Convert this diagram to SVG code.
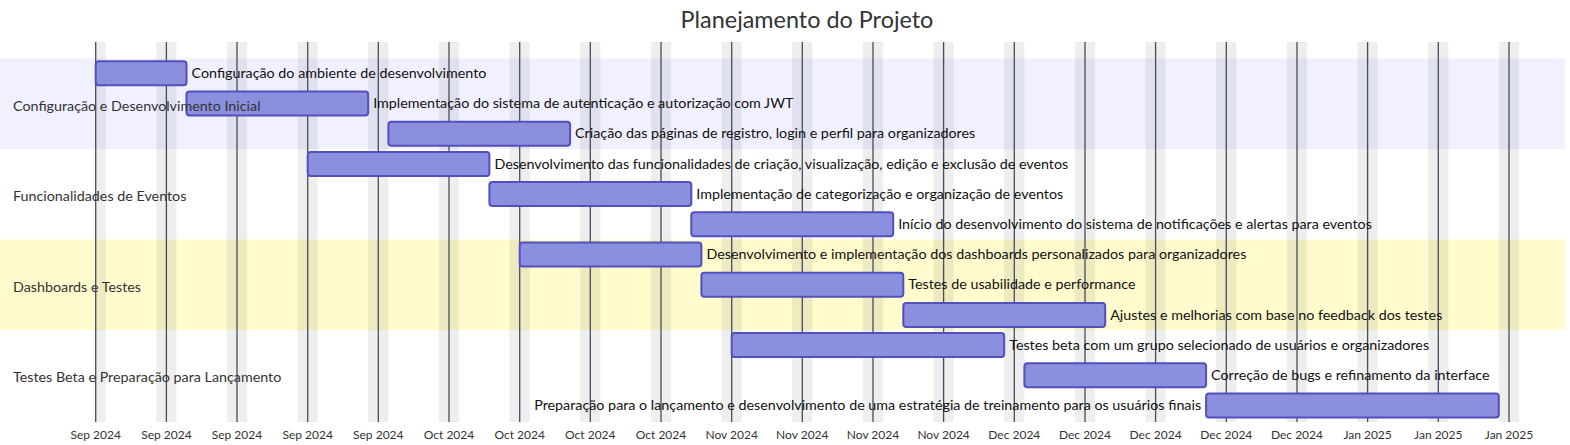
<svg xmlns="http://www.w3.org/2000/svg" width="1570" height="445" viewBox="0 0 1570 445">
<style>
text{font-family:Lato,"Liberation Sans",sans-serif;}
.title{font-size:23.4px;fill:#333;text-anchor:middle;}
.sec{font-size:14.3px;fill:#333;}
.tt{font-size:14.3px;fill:#111;}
.tte{font-size:14.3px;fill:#111;text-anchor:end;}
.ax{font-size:12px;fill:#333;text-anchor:middle;}
.bar{fill:#8a90dd;stroke:#534fbc;stroke-width:2;}
.wk{fill:#000;fill-opacity:0.067;}
.tick{stroke:#454c5e;stroke-width:1.3;}
</style>
<rect width="1570" height="445" fill="#fff"/>
<text class="title" x="807" y="28">Planejamento do Projeto</text>
<g id="sections">
<rect x="0" y="58.3" width="1565" height="90.6" fill="#f0f0ff"/>
<rect x="0" y="148.9" width="1565" height="90.6" fill="#ffffff"/>
<rect x="0" y="239.5" width="1565" height="90.6" fill="#fffbcd"/>
<rect x="0" y="330.1" width="1565" height="90.6" fill="#ffffff"/>
</g>
<g id="weekends">
<rect class="wk" x="95.7" y="42" width="10.1" height="380"/>
<rect class="wk" x="156.3" y="42" width="20.2" height="380"/>
<rect class="wk" x="226.9" y="42" width="20.2" height="380"/>
<rect class="wk" x="297.6" y="42" width="20.2" height="380"/>
<rect class="wk" x="368.2" y="42" width="20.2" height="380"/>
<rect class="wk" x="438.9" y="42" width="20.2" height="380"/>
<rect class="wk" x="509.6" y="42" width="20.2" height="380"/>
<rect class="wk" x="580.2" y="42" width="20.2" height="380"/>
<rect class="wk" x="650.9" y="42" width="20.2" height="380"/>
<rect class="wk" x="721.6" y="42" width="20.2" height="380"/>
<rect class="wk" x="792.2" y="42" width="20.2" height="380"/>
<rect class="wk" x="862.9" y="42" width="20.2" height="380"/>
<rect class="wk" x="933.5" y="42" width="20.2" height="380"/>
<rect class="wk" x="1004.2" y="42" width="20.2" height="380"/>
<rect class="wk" x="1074.9" y="42" width="20.2" height="380"/>
<rect class="wk" x="1145.5" y="42" width="20.2" height="380"/>
<rect class="wk" x="1216.2" y="42" width="20.2" height="380"/>
<rect class="wk" x="1286.9" y="42" width="20.2" height="380"/>
<rect class="wk" x="1357.5" y="42" width="20.2" height="380"/>
<rect class="wk" x="1428.2" y="42" width="20.2" height="380"/>
<rect class="wk" x="1498.9" y="42" width="20.2" height="380"/>
</g>
<g id="grid">
<line class="tick" x1="95.7" y1="42" x2="95.7" y2="422"/>
<line class="tick" x1="166.4" y1="42" x2="166.4" y2="422"/>
<line class="tick" x1="237" y1="42" x2="237" y2="422"/>
<line class="tick" x1="307.7" y1="42" x2="307.7" y2="422"/>
<line class="tick" x1="378.3" y1="42" x2="378.3" y2="422"/>
<line class="tick" x1="449" y1="42" x2="449" y2="422"/>
<line class="tick" x1="519.7" y1="42" x2="519.7" y2="422"/>
<line class="tick" x1="590.3" y1="42" x2="590.3" y2="422"/>
<line class="tick" x1="661" y1="42" x2="661" y2="422"/>
<line class="tick" x1="731.7" y1="42" x2="731.7" y2="422"/>
<line class="tick" x1="802.3" y1="42" x2="802.3" y2="422"/>
<line class="tick" x1="873" y1="42" x2="873" y2="422"/>
<line class="tick" x1="943.6" y1="42" x2="943.6" y2="422"/>
<line class="tick" x1="1014.3" y1="42" x2="1014.3" y2="422"/>
<line class="tick" x1="1085" y1="42" x2="1085" y2="422"/>
<line class="tick" x1="1155.6" y1="42" x2="1155.6" y2="422"/>
<line class="tick" x1="1226.3" y1="42" x2="1226.3" y2="422"/>
<line class="tick" x1="1297" y1="42" x2="1297" y2="422"/>
<line class="tick" x1="1367.6" y1="42" x2="1367.6" y2="422"/>
<line class="tick" x1="1438.3" y1="42" x2="1438.3" y2="422"/>
<line class="tick" x1="1509" y1="42" x2="1509" y2="422"/>
</g>
<g id="axis">
<text class="ax" x="95.7" y="439">Sep 2024</text>
<text class="ax" x="166.4" y="439">Sep 2024</text>
<text class="ax" x="237" y="439">Sep 2024</text>
<text class="ax" x="307.7" y="439">Sep 2024</text>
<text class="ax" x="378.3" y="439">Sep 2024</text>
<text class="ax" x="449" y="439">Oct 2024</text>
<text class="ax" x="519.7" y="439">Oct 2024</text>
<text class="ax" x="590.3" y="439">Oct 2024</text>
<text class="ax" x="661" y="439">Oct 2024</text>
<text class="ax" x="731.7" y="439">Nov 2024</text>
<text class="ax" x="802.3" y="439">Nov 2024</text>
<text class="ax" x="873" y="439">Nov 2024</text>
<text class="ax" x="943.6" y="439">Nov 2024</text>
<text class="ax" x="1014.3" y="439">Dec 2024</text>
<text class="ax" x="1085" y="439">Dec 2024</text>
<text class="ax" x="1155.6" y="439">Dec 2024</text>
<text class="ax" x="1226.3" y="439">Dec 2024</text>
<text class="ax" x="1297" y="439">Dec 2024</text>
<text class="ax" x="1367.6" y="439">Jan 2025</text>
<text class="ax" x="1438.3" y="439">Jan 2025</text>
<text class="ax" x="1509" y="439">Jan 2025</text>
</g>
<g id="task1"><rect class="bar" x="95.7" y="61.3" width="90.8" height="24" rx="3"/><text class="tt" x="191.5" y="78">Configuração do ambiente de desenvolvimento</text></g>
<g id="task2"><rect class="bar" x="186.5" y="91.5" width="181.7" height="24" rx="3"/><text class="tt" x="373.2" y="108.2">Implementação do sistema de autenticação e autorização com JWT</text></g>
<g id="task3"><rect class="bar" x="388.4" y="121.7" width="181.7" height="24" rx="3"/><text class="tt" x="575.1" y="138.4">Criação das páginas de registro, login e perfil para organizadores</text></g>
<g id="task4"><rect class="bar" x="307.7" y="151.9" width="181.7" height="24" rx="3"/><text class="tt" x="494.4" y="168.6">Desenvolvimento das funcionalidades de criação, visualização, edição e exclusão de eventos</text></g>
<g id="task5"><rect class="bar" x="489.4" y="182.1" width="201.9" height="24" rx="3"/><text class="tt" x="696.3" y="198.8">Implementação de categorização e organização de eventos</text></g>
<g id="task6"><rect class="bar" x="691.3" y="212.3" width="201.9" height="24" rx="3"/><text class="tt" x="898.2" y="229">Início do desenvolvimento do sistema de notificações e alertas para eventos</text></g>
<g id="task7"><rect class="bar" x="519.7" y="242.5" width="181.7" height="24" rx="3"/><text class="tt" x="706.4" y="259.2">Desenvolvimento e implementação dos dashboards personalizados para organizadores</text></g>
<g id="task8"><rect class="bar" x="701.4" y="272.7" width="201.9" height="24" rx="3"/><text class="tt" x="908.3" y="289.4">Testes de usabilidade e performance</text></g>
<g id="task9"><rect class="bar" x="903.3" y="302.9" width="201.9" height="24" rx="3"/><text class="tt" x="1110.2" y="319.6">Ajustes e melhorias com base no feedback dos testes</text></g>
<g id="task10"><rect class="bar" x="731.7" y="333.1" width="272.5" height="24" rx="3"/><text class="tt" x="1009.2" y="349.8">Testes beta com um grupo selecionado de usuários e organizadores</text></g>
<g id="task11"><rect class="bar" x="1024.4" y="363.3" width="181.7" height="24" rx="3"/><text class="tt" x="1211.1" y="380">Correção de bugs e refinamento da interface</text></g>
<g id="task12"><rect class="bar" x="1206.1" y="393.5" width="292.7" height="24" rx="3"/><text class="tte" x="1201.1" y="410.2">Preparação para o lançamento e desenvolvimento de uma estratégia de treinamento para os usuários finais</text></g>
<g id="section-labels">
<text class="sec" x="13" y="110.5">Configuração e Desenvolvimento Inicial</text>
<text class="sec" x="13" y="201">Funcionalidades de Eventos</text>
<text class="sec" x="13" y="291.5">Dashboards e Testes</text>
<text class="sec" x="13" y="382">Testes Beta e Preparação para Lançamento</text>
</g>
</svg>
